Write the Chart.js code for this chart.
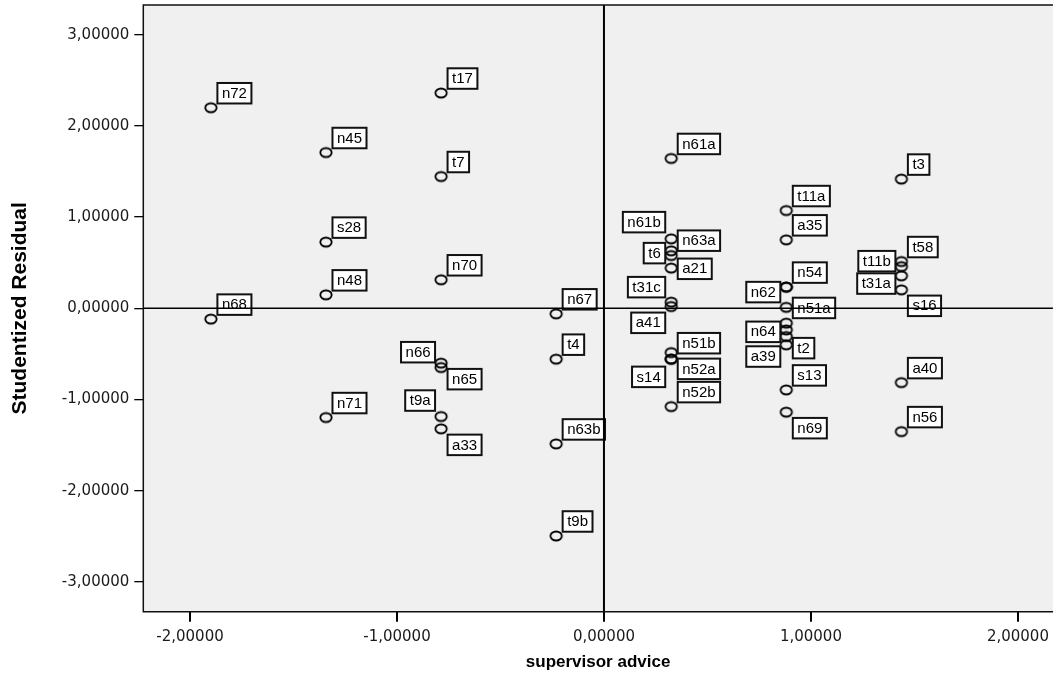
<!DOCTYPE html>
<html><head><meta charset="utf-8">
<script src="https://cdn.jsdelivr.net/npm/chart.js@4.4.1/dist/chart.umd.min.js"></script>
<style>html,body{margin:0;padding:0;background:#fff;overflow:hidden}#wrap{width:1053px;height:681px;position:relative}</style>
</head><body><div id="wrap"><canvas id="c"></canvas></div>
<script>
// ---- data ----
const caseLabels = [
  'n72','n68',
  'n45','s28','n48','n71',
  't17','t7','n70','n66','n65','t9a','a33',
  'n67','t4','n63b','t9b',
  'n61a','n61b','n63a','t6','a21','t31c','a41','n51b','n52a','s14','n52b',
  't11a','a35','n54','n62','n51a','n64','','t2','a39','s13','n69',
  't3','t58','t11b','t31a','s16','a40','n56'
];
const supervisorAdvice = [
  -1.899,-1.899,
  -1.343,-1.343,-1.343,-1.343,
  -0.787,-0.787,-0.787,-0.787,-0.787,-0.787,-0.787,
  -0.231,-0.231,-0.231,-0.231,
  0.325,0.325,0.325,0.325,0.325,0.325,0.325,0.325,0.325,0.325,0.325,
  0.881,0.881,0.881,0.881,0.881,0.881,0.881,0.881,0.881,0.881,0.881,
  1.437,1.437,1.437,1.437,1.437,1.437,1.437
];
const studentizedResidual = [
  2.199,-0.118,
  1.708,0.726,0.148,-1.197,
  2.360,1.445,0.313,-0.601,-0.649,-1.186,-1.321,
  -0.060,-0.557,-1.486,-2.495,
  1.643,0.762,0.630,0.579,0.441,0.068,0.020,-0.485,-0.557,-0.557,-1.077,
  1.072,0.751,0.233,0.233,0.011,-0.162,-0.236,-0.309,-0.400,-0.894,-1.138,
  1.417,0.513,0.458,0.356,0.203,-0.814,-1.351
];
const xTickValues = [-2,-1,0,1,2];
const yTickValues = [3,2,1,0,-1,-2,-3];
const xAxisTitle = 'supervisor advice';
const yAxisTitle = 'Studentized Residual';

// ---- label box placement (side of point, vertical shift in px) ----
const labelPlacement = {
  n66:['l',-11], n65:['r',11.6], t9a:['l',-16], a33:['r',16],
  n61b:['l',-16.7], n63a:['r',-10.2], t6:['l',-2.4], a21:['r',0.7],
  t31c:['l',-15], a41:['l',16.3], n51b:['r',-9.4], n52a:['r',9.7], s14:['l',17.7],
  n62:['l',5], n51a:['r',0.6], n64:['l',8.7], t2:['r',11.6], a39:['l',11.7], n69:['r',16],
  t11b:['l',-5.4], t31a:['l',7.7], s16:['r',16]
};

function ellipseMarker(){
  const c=document.createElement('canvas'); c.width=16; c.height=14;
  const g=c.getContext('2d'); g.lineWidth=1.8; g.strokeStyle='#000';
  g.beginPath(); g.ellipse(8,7,5.7,4.5,0,0,Math.PI*2); g.stroke();
  return c;
}

const fmt = v => Number(v).toFixed(5).replace('.', ',');

const plotDecor = {
  id:'plotDecor',
  beforeDatasetsDraw(chart){
    const {ctx, chartArea:a} = chart;
    ctx.save(); ctx.fillStyle='#f0f0f0';
    ctx.fillRect(a.left, a.top, a.right-a.left, a.bottom-a.top);
    ctx.restore();
  },
  afterDatasetsDraw(chart){
    const {ctx, chartArea:a} = chart;
    const meta = chart.getDatasetMeta(0);
    ctx.save();
    ctx.font = '15px Arial, "Liberation Sans", sans-serif';
    ctx.textBaseline = 'middle'; ctx.textAlign = 'center';
    meta.data.forEach((pt,i)=>{
      const lab = caseLabels[i]; if(!lab) return;
      const pl = labelPlacement[lab] || ['r',-14.5];
      const w = ctx.measureText(lab).width + 9, h = 20.5;
      const left = pl[0]==='r' ? pt.x + 6.5 : pt.x - 6 - w;
      const top = pt.y + pl[1] - h/2;
      ctx.fillStyle='#fff'; ctx.fillRect(left, top, w, h);
      ctx.lineWidth=2; ctx.strokeStyle='#111'; ctx.strokeRect(left, top, w, h);
      ctx.fillStyle='#000'; ctx.fillText(lab, left + w/2, top + h/2 + 0.5);
    });
    // reference lines at zero
    const x0 = chart.scales.x.getPixelForValue(0), y0 = chart.scales.y.getPixelForValue(0);
    ctx.strokeStyle='#000';
    ctx.lineWidth=1.5; ctx.beginPath(); ctx.moveTo(a.left, y0); ctx.lineTo(a.right, y0); ctx.stroke();
    ctx.lineWidth=2; ctx.beginPath(); ctx.moveTo(x0, a.top); ctx.lineTo(x0, a.bottom); ctx.stroke();
    // frame (left, top, bottom)
    ctx.lineWidth=1.5; ctx.strokeStyle='#111';
    ctx.beginPath();
    ctx.moveTo(a.right+2, a.top); ctx.lineTo(a.left, a.top); ctx.lineTo(a.left, a.bottom); ctx.lineTo(a.right+2, a.bottom);
    ctx.stroke();
    ctx.restore();
  }
};

const tickFont = { family:'"DejaVu Sans", Verdana, sans-serif', size:15 };

new Chart(document.getElementById('c'), {
  type:'scatter',
  data:{ datasets:[{
    data: supervisorAdvice.map((x,i)=>({x, y: studentizedResidual[i]})),
    pointStyle: ellipseMarker(), pointRadius:0.1, pointHoverRadius:0.1, pointBorderWidth:0, borderWidth:0,
    borderColor:'#000', backgroundColor:'rgba(0,0,0,0)', clip:false
  }]},
  options:{
    responsive:true, maintainAspectRatio:false, animation:false, devicePixelRatio:1,
    layout:{ padding:{ top:5, right:0, left:0, bottom:0 } },
    plugins:{ legend:{display:false}, tooltip:{enabled:false} },
    scales:{
      x:{
        type:'linear', min:-2.2256, max:2.169,
        afterBuildTicks:s=>{ s.ticks = xTickValues.map(v=>({value:v})); },
        afterFit:s=>{ s.height = 69.3; s.paddingLeft = 0; s.paddingRight = 0; },
        ticks:{ callback:fmt, autoSkip:false, maxRotation:0, padding:6, color:'#1a1a1a', font:tickFont },
        grid:{ drawOnChartArea:false, drawTicks:true, tickLength:10, color:'#000', lineWidth:2 },
        border:{ display:false },
        title:{ display:true, text:xAxisTitle, color:'#000', padding:{top:0,bottom:8},
                font:{ family:'Arial, "Liberation Sans", sans-serif', size:17, weight:'bold' } }
      },
      y:{
        type:'linear', min:-3.325, max:3.325,
        afterBuildTicks:s=>{ s.ticks = yTickValues.map(v=>({value:v})); },
        afterFit:s=>{ s.width = 143.3; s.paddingTop = 0; s.paddingBottom = 0; },
        ticks:{ callback:fmt, autoSkip:false, padding:5, color:'#1a1a1a', font:tickFont },
        grid:{ drawOnChartArea:false, drawTicks:true, tickLength:9, color:'#000', lineWidth:1.3 },
        border:{ display:false },
        title:{ display:true, text:yAxisTitle, color:'#000', padding:{top:8,bottom:0},
                font:{ family:'Arial, "Liberation Sans", sans-serif', size:21, weight:'bold' } }
      }
    }
  },
  plugins:[plotDecor]
});
</script>
</body></html>
